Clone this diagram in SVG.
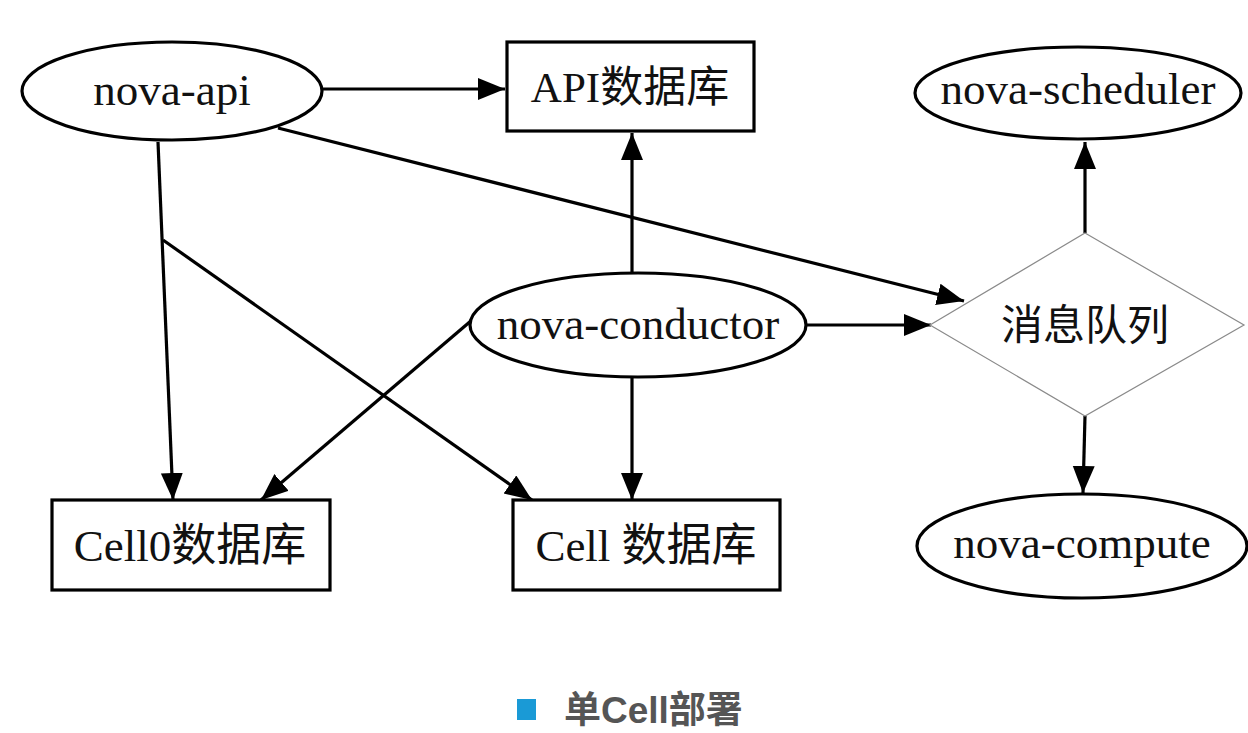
<svg xmlns="http://www.w3.org/2000/svg" width="1248" height="733" viewBox="0 0 1248 733">
<style>
.shape{fill:#fff;stroke:#000;stroke-width:3.2}
.dia{fill:#fff;stroke:#8a8a8a;stroke-width:1.2}
.lbl{font-family:"Liberation Serif","Noto Sans CJK SC",serif;font-size:45px;fill:#111;text-anchor:middle}
.edge{fill:none;stroke:#000;stroke-width:3.2;marker-end:url(#ah)}
.cap{font-family:"Liberation Sans","Noto Sans CJK SC",sans-serif;font-size:37px;font-weight:bold;fill:#555}
</style>
<defs>
<marker id="ah" markerUnits="userSpaceOnUse" markerWidth="30" markerHeight="24" refX="27" refY="11" orient="auto">
<path d="M0,0 L27,11 L0,22 z" fill="#000"/>
</marker>
</defs>
<rect width="1248" height="733" fill="#fff"/>
<g id="connectors">
<line class="edge" x1="322" y1="89" x2="505" y2="89"/>
<line class="edge" x1="278" y1="128" x2="964" y2="301"/>
<line class="edge" x1="158" y1="142" x2="173" y2="500"/>
<line class="edge" x1="163" y1="240" x2="532" y2="500"/>
<line class="edge" x1="632" y1="272" x2="632" y2="133"/>
<line class="edge" x1="807" y1="325" x2="931" y2="325"/>
<line class="edge" x1="472" y1="320" x2="261" y2="500"/>
<line class="edge" x1="632" y1="377" x2="632" y2="500"/>
<line class="edge" x1="1085" y1="233" x2="1085" y2="142"/>
<line class="edge" x1="1085" y1="416" x2="1083" y2="493"/>
</g>
<g id="nova-api">
<ellipse class="shape" cx="172" cy="91" rx="150" ry="49"/>
<text class="lbl" x="172" y="105">nova-api</text>
</g>
<g id="api-db">
<rect class="shape" x="507" y="42" width="247" height="89"/>
<text class="lbl" x="630" y="102" style="font-size:43px">API数据库</text>
</g>
<g id="nova-scheduler">
<ellipse class="shape" cx="1078" cy="93" rx="163" ry="46"/>
<text class="lbl" x="1078" y="104">nova-scheduler</text>
</g>
<g id="nova-conductor">
<ellipse class="shape" cx="638" cy="325" rx="168" ry="52"/>
<text class="lbl" x="638" y="339">nova-conductor</text>
</g>
<g id="mq">
<polygon class="dia" points="1085,233 1244,325 1085,416 930,325"/>
<text class="lbl" x="1085" y="340" style="font-size:42px">消息队列</text>
</g>
<g id="cell0-db">
<rect class="shape" x="52" y="500" width="278" height="90"/>
<text class="lbl" x="190" y="561">Cell0数据库</text>
</g>
<g id="cell-db">
<rect class="shape" x="513" y="500" width="267" height="90"/>
<text class="lbl" x="646" y="561">Cell 数据库</text>
</g>
<g id="nova-compute">
<ellipse class="shape" cx="1082" cy="546" rx="165" ry="52"/>
<text class="lbl" x="1082" y="558">nova-compute</text>
</g>
<g id="caption">
<rect x="517" y="699" width="19" height="21" fill="#1a9ad6"/>
<text class="cap" x="564" y="723">单Cell部署</text>
</g>
</svg>
